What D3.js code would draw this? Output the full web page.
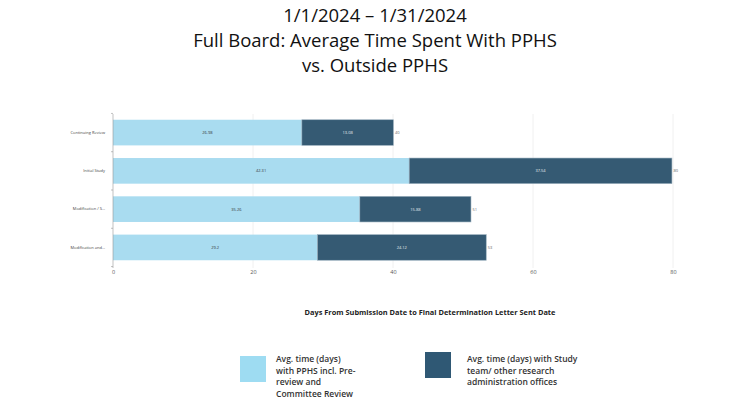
<!DOCTYPE html>
<html>
<head>
<meta charset="utf-8">
<script src="https://cdn.jsdelivr.net/npm/d3@7"></script>
<style>
  body { margin: 0; background: #fff; }
  svg { display: block; }
</style>
</head>
<body>
<script>
// Full Board: average time with PPHS vs outside PPHS

var categories = ["Continuing Review", "Initial Study", "Modification / S...", "Modification and..."];
var pphsDays = [26.98, 42.31, 35.26, 29.2];
var outsideDays = [13.08, 37.54, 15.88, 24.12];
var xTicks = [0, 20, 40, 60, 80];

var titleLines = ["1/1/2024 \u2013 1/31/2024", "Full Board: Average Time Spent With PPHS", "vs. Outside PPHS"];
var legendLabels = [
  ["Avg. time (days)", "with PPHS incl. Pre-", "review and", "Committee Review"],
  ["Avg. time (days) with Study", "team/ other research", "administration offices"]
];

var width = 750,
    height = 400,
    margin = {left: 113, right: 77, top: 114, bottom: 134},
    colors = ["#a9dcf0", "#355a73"];

var svg = d3.select("body").append("svg")
  .attr("width", width)
  .attr("height", height);

svg.selectAll(".title").data(titleLines).enter()
  .append("text")
  .attr("x", 375)
  .attr("y", function(d, i) { return 22 + i * 25; })
  .attr("text-anchor", "middle")
  .style("font-family", "'Open Sans', sans-serif")
  .style("font-size", "18.5px")
  .style("fill", "#111")
  .text(function(d) { return d; });

var x = d3.scaleLinear()
  .domain([0, 80])
  .range([margin.left, width - margin.right]);

var y = d3.scaleBand()
  .domain(categories)
  .range([margin.top, height - margin.bottom])
  .paddingInner(0.33)
  .paddingOuter(0.15);

var rows = categories.map(function(c, i) {
  return {cat: c, a: pphsDays[i], b: outsideDays[i]};
});

// grid
svg.selectAll(".grid").data(xTicks.slice(1)).enter()
  .append("line")
  .attr("x1", function(d) { return x(d); })
  .attr("x2", function(d) { return x(d); })
  .attr("y1", margin.top)
  .attr("y2", height - margin.bottom + 2)
  .style("stroke", "#ececec")
  .style("stroke-width", 0.8);

var g = svg.append("g");

g.selectAll(".barA").data(rows).enter()
  .append("rect")
  .attr("x", x(0))
  .attr("y", function(d) { return y(d.cat); })
  .attr("width", function(d) { return x(d.a) - x(0); })
  .attr("height", y.bandwidth())
  .style("fill", colors[0]);

g.selectAll(".barB").data(rows).enter()
  .append("rect")
  .attr("x", function(d) { return x(d.a); })
  .attr("y", function(d) { return y(d.cat); })
  .attr("width", function(d) { return x(d.a + d.b) - x(d.a); })
  .attr("height", y.bandwidth())
  .style("fill", colors[1])
  .style("stroke", "#9fb3c0")
  .style("stroke-width", 0.6);

g.selectAll(".labA").data(rows).enter()
  .append("text")
  .attr("x", function(d) { return (x(0) + x(d.a)) / 2; })
  .attr("y", function(d) { return y(d.cat) + y.bandwidth() / 2 + 1.5; })
  .attr("text-anchor", "middle")
  .style("font-family", "'Open Sans', sans-serif")
  .style("font-size", "4px")
  .style("fill", "#333")
  .text(function(d) { return d.a; });

g.selectAll(".labB").data(rows).enter()
  .append("text")
  .attr("x", function(d) { return (x(d.a) + x(d.a + d.b)) / 2; })
  .attr("y", function(d) { return y(d.cat) + y.bandwidth() / 2 + 1.5; })
  .attr("text-anchor", "middle")
  .style("font-family", "'Open Sans', sans-serif")
  .style("font-size", "4px")
  .style("fill", "#e8eef2")
  .text(function(d) { return d.b; });

g.selectAll(".labT").data(rows).enter()
  .append("text")
  .attr("x", function(d) { return x(d.a + d.b) + 1.5; })
  .attr("y", function(d) { return y(d.cat) + y.bandwidth() / 2 + 1.5; })
  .style("font-family", "'Open Sans', sans-serif")
  .style("font-size", "4px")
  .style("fill", "#666")
  .text(function(d) { return Math.round(d.a + d.b); });

// axes
var xAxis = svg.append("g")
  .attr("transform", "translate(0," + (height - margin.bottom + 2) + ")")
  .call(d3.axisBottom(x).tickValues(xTicks).tickSize(0).tickPadding(2));
xAxis.select(".domain").remove();
xAxis.selectAll("text")
  .style("font-family", "'Open Sans', sans-serif")
  .style("font-size", "5.5px")
  .style("fill", "#555");

var yAxis = svg.append("g")
  .attr("transform", "translate(" + margin.left + ",0)")
  .call(d3.axisLeft(y).tickSize(0).tickPadding(8));
yAxis.select(".domain")
  .attr("d", "M0," + margin.top + "V" + (height - margin.bottom + 2))
  .style("stroke", "#999")
  .style("stroke-width", 0.6);
yAxis.selectAll("text")
  .style("font-family", "'Open Sans', sans-serif")
  .style("font-size", "4px")
  .style("fill", "#444");

var step = y.step();
var bounds = categories.map(function(c) { return y(c) - y.paddingInner() * step / 2; });
bounds.push(y(categories[categories.length - 1]) + y.bandwidth() + y.paddingInner() * step / 2);
svg.selectAll(".ytick").data(bounds).enter()
  .append("line")
  .attr("x1", margin.left - 2)
  .attr("x2", margin.left)
  .attr("y1", function(d) { return d; })
  .attr("y2", function(d) { return d; })
  .style("stroke", "#999")
  .style("stroke-width", 0.6);

svg.append("text")
  .attr("x", 430)
  .attr("y", 315)
  .attr("text-anchor", "middle")
  .style("font-family", "'Open Sans', sans-serif")
  .style("font-size", "7.4px")
  .style("font-weight", "bold")
  .style("fill", "#222")
  .text("Days From Submission Date to Final Determination Letter Sent Date");

// legend
var legendPos = [{sx: 240, sy: 356, tx: 276, ty: 362}, {sx: 425, sy: 352, tx: 467, ty: 362}];
legendLabels.forEach(function(lines, i) {
  var p = legendPos[i];
  svg.append("rect")
    .attr("x", p.sx).attr("y", p.sy)
    .attr("width", 26).attr("height", 26)
    .style("fill", i == 0 ? "#9edcf2" : "#2f5874");
  svg.selectAll(".leg" + i).data(lines).enter()
    .append("text")
    .attr("x", p.tx)
    .attr("y", function(d, j) { return p.ty + j * 11.5; })
    .style("font-family", "'Open Sans', sans-serif")
    .style("font-size", "8.5px")
    .style("font-weight", "600")
    .style("fill", "#333")
    .text(function(d) { return d; });
});
</script>
</body>
</html>
